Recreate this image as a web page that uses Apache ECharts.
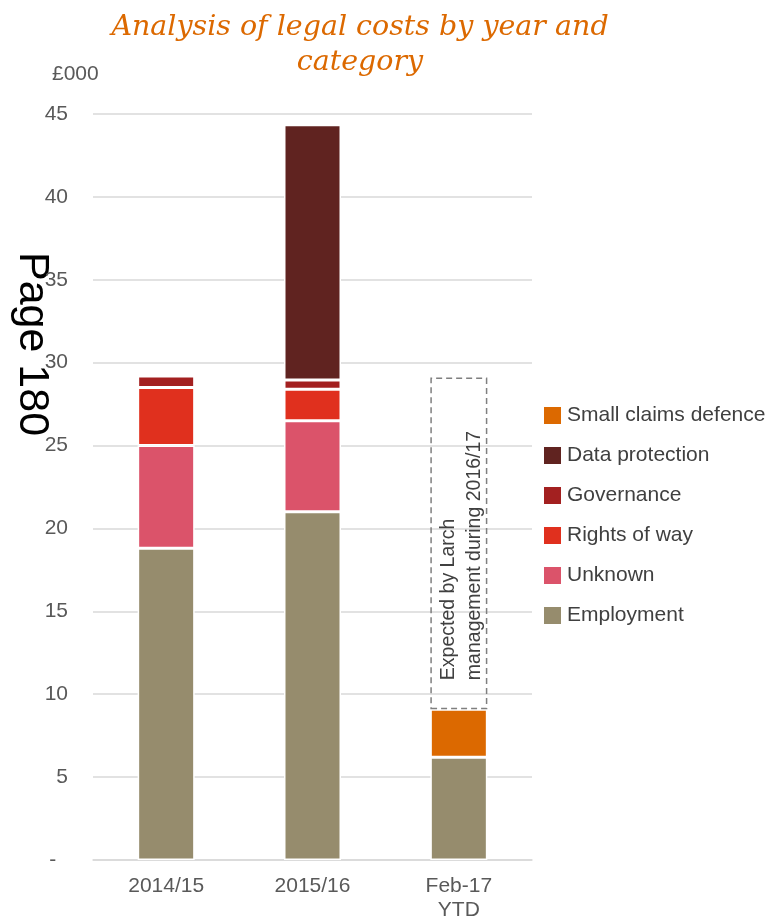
<!DOCTYPE html>
<html>
<head>
<meta charset="utf-8">
<script src="https://cdn.jsdelivr.net/npm/echarts@6/dist/echarts.min.js"></script>
<style>
  html, body { margin: 0; padding: 0; background: #fff; }
  #chart { width: 767px; height: 917px; }
</style>
</head>
<body>
<div id="chart"></div>
<script>
const years = ["2014/15", "2015/16", "Feb-17\nYTD"];

const employment = [18.8, 21.0, 6.2];
const unknown = [6.2, 5.5, null];
const rightsOfWay = [3.5, 1.9, null];
const governance = [0.7, 0.55, null];
const dataProtection = [null, 15.4, null];
const smallClaims = [null, null, 2.9];
const expected = [null, null, 20.0];

const legendOrder = ["Small claims defence", "Data protection", "Governance", "Rights of way", "Unknown", "Employment"];

const chart = echarts.init(document.getElementById("chart"));

function stackBar(name, values, color) {
  return {
    name: name,
    type: "bar",
    stack: "total",
    barWidth: 57,
    data: values,
    itemStyle: {
      color: color,
      borderColor: "#ffffff",
      borderWidth: 1.5
    }
  };
}

chart.setOption({
  animation: false,
  textStyle: { fontFamily: "Liberation Sans, Arial, sans-serif" },
  title: {
    text: "Analysis of legal costs by year and\ncategory",
    left: 355,
    top: 5,
    textAlign: "center",
    textStyle: {
      fontFamily: "DejaVu Serif",
      fontStyle: "italic",
      fontWeight: "normal",
      fontSize: 28.5,
      lineHeight: 35,
      color: "#DC6900"
    }
  },
  graphic: [
    {
      type: "text",
      left: 52,
      top: 64,
      style: { text: "£000", fontSize: 21, fill: "#595959", fontFamily: "Liberation Sans" }
    },
    {
      type: "text",
      x: 53,
      y: 252,
      rotation: -Math.PI / 2,
      style: { text: "Page 180", fontSize: 43, fill: "#000000", fontFamily: "Liberation Sans" }
    }
  ],
  legend: {
    data: legendOrder,
    orient: "vertical",
    left: 537,
    top: 400,
    icon: "rect",
    itemWidth: 19,
    itemHeight: 19,
    itemGap: 19,
    textStyle: { fontSize: 21, color: "#404040", lineHeight: 20 }
  },
  grid: {
    left: 93,
    right: 235,
    top: 114,
    bottom: 57,
    outerBoundsMode: "none"
  },
  xAxis: {
    type: "category",
    data: years,
    axisTick: { show: false },
    axisLine: { lineStyle: { color: "#D9D9D9", width: 1.5 } },
    axisLabel: { fontSize: 21, color: "#595959", margin: 14, lineHeight: 24 }
  },
  yAxis: {
    type: "value",
    min: 0,
    max: 45,
    interval: 5,
    axisLine: { show: false },
    axisTick: { show: false },
    splitLine: { lineStyle: { color: "#D9D9D9", width: 1.5 } },
    axisLabel: {
      fontSize: 21,
      color: "#595959",
      margin: 25,
      formatter: v => (v === 0 ? "-  " : String(v))
    }
  },
  series: [
    stackBar("Employment", employment, "#968C6D"),
    stackBar("Unknown", unknown, "#DB536A"),
    stackBar("Rights of way", rightsOfWay, "#E0301E"),
    stackBar("Governance", governance, "#A32020"),
    stackBar("Data protection", dataProtection, "#602320"),
    stackBar("Small claims defence", smallClaims, "#DC6900"),
    {
      name: "Expected",
      type: "bar",
      stack: "total",
      barWidth: 57,
      data: expected,
      itemStyle: {
        color: "rgba(0,0,0,0)",
        borderColor: "#7F7F7F",
        borderWidth: 1.5,
        borderType: [6, 4]
      },
      label: {
        show: true,
        position: "insideBottom",
        distance: 29,
        rotate: 90,
        align: "left",
        verticalAlign: "middle",
        offset: [0, 3],
        formatter: "Expected by Larch\nmanagement during 2016/17",
        fontSize: 19.5,
        lineHeight: 26,
        color: "#404040"
      }
    }
  ]
});
</script>
</body>
</html>
